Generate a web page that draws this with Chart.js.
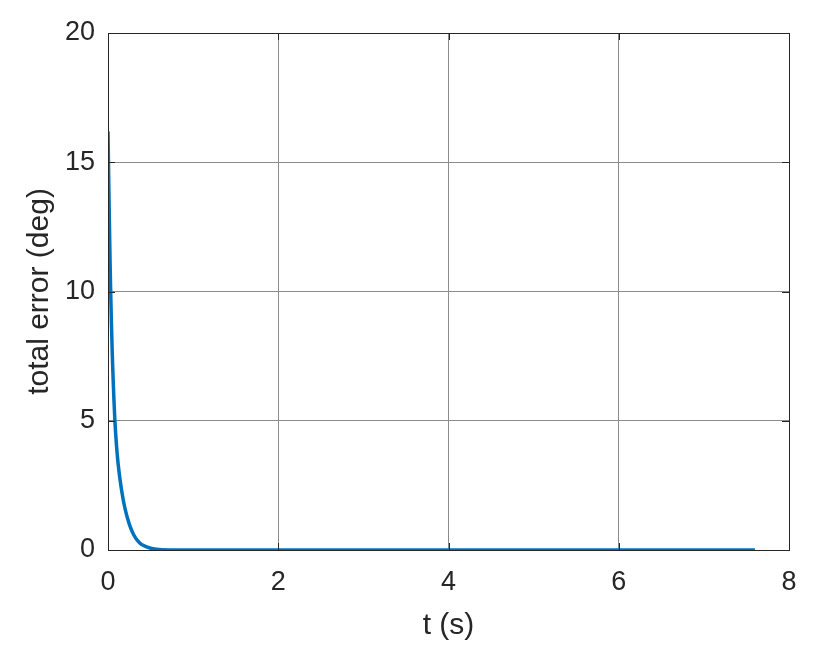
<!DOCTYPE html>
<html>
<head>
<meta charset="utf-8">
<script src="https://cdn.jsdelivr.net/npm/chart.js@4/dist/chart.umd.min.js"></script>
<style>
  html, body { margin: 0; padding: 0; background: #fff; }
  #wrap { width: 827px; height: 660px; }
</style>
</head>
<body>
<div id="wrap"><canvas id="errChart"></canvas></div>
<script>
// data
const tVals = [0, 0.01, 0.02, 0.03, 0.05, 0.07, 0.09, 0.12, 0.16, 0.2, 0.25, 0.3, 0.35, 0.4, 0.5, 0.6, 0.8, 1, 2, 3, 4, 5, 6, 7, 7.6];
const errVals = [16.2, 14.0, 12.0, 10.2, 7.6, 5.8, 4.5, 3.3, 2.3, 1.6, 1.0, 0.6, 0.35, 0.2, 0.07, 0.02, 0, 0, 0, 0, 0, 0, 0, 0, 0];
const xTicks = [0, 2, 4, 6, 8];
const yTicks = [0, 5, 10, 15, 20];

const FONT = "'Liberation Sans', Arial, sans-serif";
const TXT = "#262626";

// box around the axes plus the small inward tick marks
const boxPlugin = {
  id: "box",
  afterDatasetsDraw(chart) {
    const { ctx, chartArea: a, scales } = chart;
    ctx.save();
    ctx.strokeStyle = TXT;
    ctx.lineWidth = 1;
    ctx.beginPath();
    xTicks.forEach((v) => {
      const x = Math.round(scales.x.getPixelForValue(v)) + 0.5;
      ctx.moveTo(x, a.bottom); ctx.lineTo(x, a.bottom - 7);
      ctx.moveTo(x, a.top); ctx.lineTo(x, a.top + 7);
    });
    yTicks.forEach((v) => {
      const y = Math.round(scales.y.getPixelForValue(v)) + 0.5;
      ctx.moveTo(a.left, y); ctx.lineTo(a.left + 7, y);
      ctx.moveTo(a.right, y); ctx.lineTo(a.right - 7, y);
    });
    ctx.stroke();
    ctx.strokeRect(Math.round(a.left) + 0.5, Math.round(a.top) + 0.5,
      Math.round(a.right - a.left), Math.round(a.bottom - a.top));
    ctx.restore();
  },
};

const ctx = document.getElementById("errChart").getContext("2d");
new Chart(ctx, {
  type: "line",
  data: {
    datasets: [
      {
        label: "total error",
        data: tVals.map((t, i) => ({ x: t, y: errVals[i] })),
        borderColor: "#0072BD",
        borderWidth: 3.5,
        pointRadius: 0,
        tension: 0.3,
        fill: false,
      },
    ],
  },
  options: {
    responsive: true,
    maintainAspectRatio: false,
    animation: false,
    layout: { padding: { top: 33, right: 38, left: 0, bottom: 0 } },
    plugins: {
      legend: { display: false },
      tooltip: { enabled: false },
    },
    scales: {
      x: {
        type: "linear",
        min: 0,
        max: 8,
        afterBuildTicks: (s) => { s.ticks = xTicks.map((v) => ({ value: v })); },
        afterFit: (s) => { s.height = 110; },
        border: { display: false },
        grid: { color: "#8c8c8c", lineWidth: 1, drawTicks: false },
        ticks: { color: TXT, font: { family: FONT, size: 27 }, padding: 16, maxRotation: 0 },
        title: {
          display: true,
          text: "t (s)",
          color: TXT,
          font: { family: FONT, size: 30 },
          padding: { top: 0, bottom: 16 },
        },
      },
      y: {
        min: 0,
        max: 20,
        afterBuildTicks: (s) => { s.ticks = yTicks.map((v) => ({ value: v })); },
        afterFit: (s) => { s.width = 108; },
        border: { display: false },
        grid: { color: "#8c8c8c", lineWidth: 1, drawTicks: false },
        ticks: { color: TXT, font: { family: FONT, size: 27 }, padding: 13 },
        title: {
          display: true,
          text: "total error (deg)",
          color: TXT,
          font: { family: FONT, size: 30 },
          padding: { top: 22, bottom: 0 },
        },
      },
    },
  },
  plugins: [boxPlugin],
});
</script>
</body>
</html>
